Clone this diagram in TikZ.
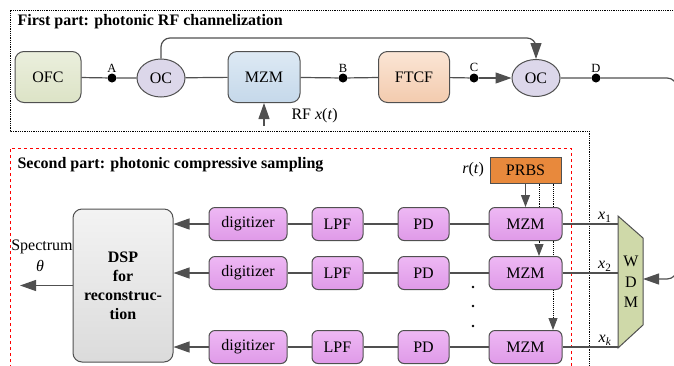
\documentclass[tikz,border=0pt]{standalone}
\usepackage{fontspec}
\setmainfont{Liberation Serif}
\usetikzlibrary{arrows.meta,shapes.geometric,backgrounds}

\definecolor{linegray}{HTML}{505050}
\definecolor{ofctop}{HTML}{EBEFDD}
\definecolor{ofcbot}{HTML}{DCE3C6}
\definecolor{mzmtop}{HTML}{DDE9F4}
\definecolor{mzmbot}{HTML}{C5D8EA}
\definecolor{ftcftop}{HTML}{FBE5D5}
\definecolor{ftcfbot}{HTML}{F3CBAE}
\definecolor{ocviolet}{HTML}{DCD7EA}
\definecolor{prbsorange}{HTML}{E8893C}
\definecolor{purpletop}{HTML}{EEB8F4}
\definecolor{purplebot}{HTML}{DF9AE8}
\definecolor{wdmgreen}{HTML}{CFD9A9}
\definecolor{dsptop}{HTML}{F3F3F3}
\definecolor{dspbot}{HTML}{DBDBDB}

\begin{document}
\begin{tikzpicture}[x=1pt,y=-1pt,
  font=\fontsize{16}{19}\selectfont,
  box/.style={draw=linegray, line width=1pt, rounded corners=6pt,
    minimum height=33pt, inner sep=0pt},
  bigbox/.style={box, minimum height=51pt, rounded corners=9pt},
  purplebox/.style={box, top color=purpletop, bottom color=purplebot},
  ocnode/.style={ellipse, draw=linegray, line width=1pt, fill=ocviolet,
    minimum width=48pt, minimum height=38pt, inner sep=0pt},
  junction/.style={circle, fill=black, minimum size=9pt, inner sep=0pt},
  ptlabel/.style={above=0pt, inner sep=1pt, font=\fontsize{12.5}{14}\selectfont},
  conn/.style={draw=linegray, line width=1.2pt},
  arr/.style={conn, -{Triangle[length=16pt,width=11pt]}},
  smallarr/.style={conn, -{Triangle[length=12pt,width=9pt]}},
  dotarr/.style={draw=black, densely dotted, line width=0.9pt,
    -{Triangle[length=12pt,width=9pt,color=linegray]}},
  xlab/.style={anchor=south east, xshift=-5pt, inner sep=1pt}]

\useasboundingbox (0,0) rectangle (674,365);

% Part frames
\draw[densely dotted, line width=0.8pt] (589,380) -- (589,131) -- (10,131) -- (10,10) -- (690,10);
\draw[red, dashed, line width=0.8pt] (10,380) -- (10,148) -- (571,148) -- (571,380);
\node[anchor=west, font=\fontsize{16}{19}\bfseries] (title1) at (14,22) {First part: photonic RF channelization};
\node[anchor=west, font=\fontsize{16}{19}\bfseries] (title2) at (14,165) {Second part: photonic compressive sampling};

% First part: channelization chain
\node[bigbox, minimum width=66pt, top color=ofctop, bottom color=ofcbot] (ofc) at (48,77) {OFC};
\node[junction] (ptA) at (112,78) {};
\node[ocnode] (oc1) at (161,78) {OC};
\node[bigbox, minimum width=72pt, top color=mzmtop, bottom color=mzmbot] (mzm) at (264,77) {MZM};
\node[junction] (ptB) at (343,78) {};
\node[bigbox, minimum width=71pt, top color=ftcftop, bottom color=ftcfbot] (ftcf) at (414,77) {FTCF};
\node[junction] (ptC) at (474,78) {};
\node[ocnode, minimum height=37pt] (oc2) at (536,78) {OC};
\node[junction] (ptD) at (596,78) {};

\node[ptlabel] at (ptA.north) {A};
\node[ptlabel] at (ptB.north) {B};
\node[ptlabel] at (ptC.north) {C};
\node[ptlabel] at (ptD.north) {D};

\draw[conn] (ofc) -- (ptA) -- (oc1) -- (mzm) -- (ptB) -- (ftcf) -- (ptC);
\draw[arr] (ptC) -- (oc2);
\coordinate (fbtop) at (536,38);
\draw[arr, rounded corners=9pt] (oc1.north) |- (fbtop) -- (oc2.north);

% RF input
\coordinate (rfin) at (mzm.south |- 0,126);
\draw[arr] (rfin) -- (mzm.south);
\node[anchor=west] (rflab) at (288,116) {RF \textit{x}(\textit{t})};

% Second part: compressive sampling
\node[box, minimum width=71pt, minimum height=26pt, rounded corners=0pt, fill=prbsorange] (prbs) at (525.5,170) {PRBS};
\node[left=2pt] (rlab) at (prbs.west) {\textit{r}(\textit{t})};

\node[box, minimum width=100pt, minimum height=153pt, rounded corners=9pt,
  top color=dsptop, bottom color=dspbot, align=center,
  font=\fontsize{16}{19}\bfseries] (dsp) at (123,285.5) {DSP\\for\\reconstruc-\\tion};

\foreach \r/\y in {1/224,2/273,k/347}{
  \node[purplebox, minimum width=73pt] (mzm\r) at (525.5,\y) {MZM};
  \node[purplebox, minimum width=51pt] (pd\r) at (423.5,\y) {PD};
  \node[purplebox, minimum width=51pt] (lpf\r) at (337.5,\y) {LPF};
  \node[purplebox, minimum width=78pt] (dig\r) at (248,\y) {digitizer};
  \draw[conn] (mzm\r) -- (pd\r) -- (lpf\r) -- (dig\r);
  \draw[arr] (dig\r.west) -- (dsp.east |- dig\r.west);
}

% Vertical dots
\foreach \y in {287,306,326}
  \fill (473,\y) circle (1.4);

% PRBS to modulators
\draw[smallarr] (prbs.south) -- (mzm1.north);
\begin{scope}[on background layer]
\draw[dotarr] ([xshift=13.5pt]prbs.south) -- ([xshift=13.5pt]mzm2.north);
\draw[dotarr] ([xshift=27.5pt]prbs.south) -- ([xshift=27.5pt]mzmk.north);
\end{scope}

% Spectrum output
\coordinate (specout) at (20,285.5);
\draw[arr] (dsp.west) -- (specout);
\node (speclab) at (42,247) {Spectrum};
\node (thetalab) at (40,266) {\textit{θ}};

% WDM
\coordinate (w1) at (618,224);
\coordinate (w2) at (618,273);
\coordinate (wk) at (618,347);
\coordinate (wdmin) at (643,279);
\draw[line width=1pt, draw=linegray, fill=wdmgreen] (618,216) -- (643,238) -- (643,325) -- (618,348) -- cycle;
\node[align=center, font=\fontsize{16}{20.5}\selectfont] (wdm) at (631,282) {W\\D\\M};
\draw[conn] (mzm1) -- (w1) node[xlab] {\textit{x}\textsubscript{1}};
\draw[conn] (mzm2) -- (w2) node[xlab] {\textit{x}\textsubscript{2}};
\draw[conn] (mzmk) -- (wk) node[xlab] {\textit{x}\textsubscript{\textit{k}}};

% Loop from D down into the WDM
\draw[arr, rounded corners=10pt] (oc2) -- (ptD) -- (677,78) -- (677,279) -- (wdmin);

\end{tikzpicture}
\end{document}
